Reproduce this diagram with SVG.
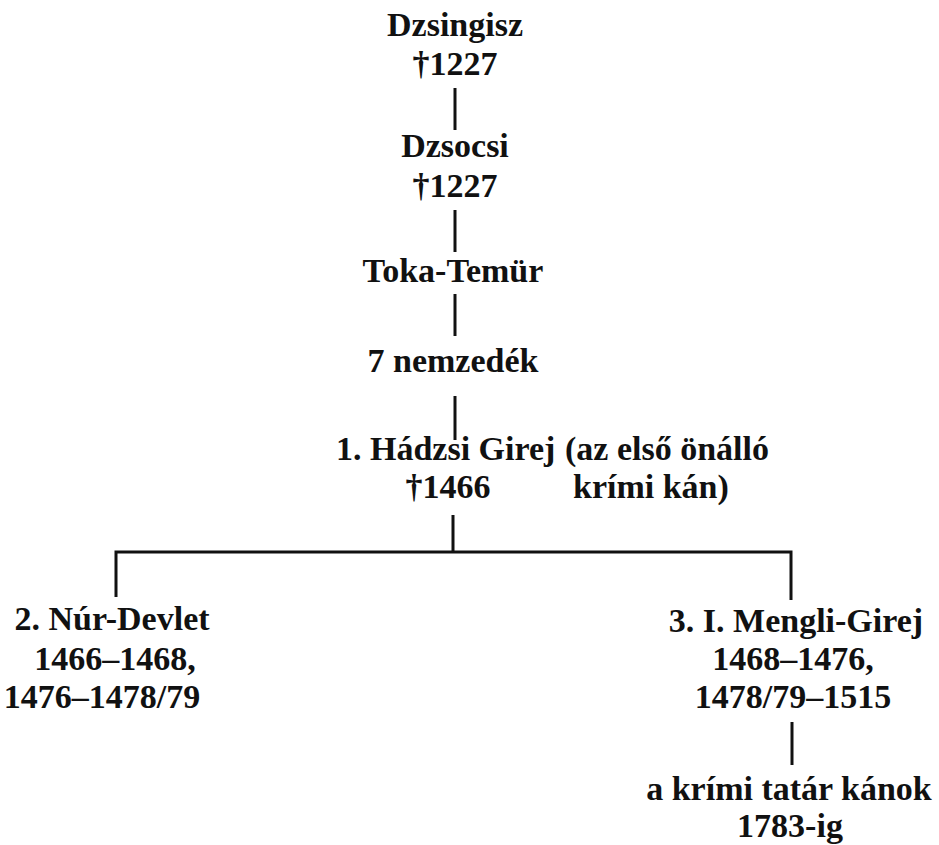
<svg xmlns="http://www.w3.org/2000/svg" width="939" height="845" viewBox="0 0 939 845">
<style>
text{font-family:"Liberation Serif","Times New Roman",serif;font-weight:bold;font-size:34px;fill:#111}
.c{text-anchor:middle}
.ln{stroke:#111;stroke-width:3;fill:none}
</style>
<rect width="939" height="845" fill="#fff"/>
<g id="connectors">
<line class="ln" x1="455" y1="88" x2="455" y2="130"/>
<line class="ln" x1="455" y1="210" x2="455" y2="252"/>
<line class="ln" x1="455" y1="294" x2="455" y2="336"/>
<line class="ln" x1="455" y1="396" x2="455" y2="440"/>
<path class="ln" d="M453 515 V552 M116 597 V552 H791 V600"/>
<line class="ln" x1="792" y1="722" x2="792" y2="765"/>
</g>
<g id="dzsingisz"><text class="c" x="455" y="36">Dzsingisz</text><text class="c" x="455" y="75">†1227</text></g>
<g id="dzsocsi"><text class="c" x="455" y="157">Dzsocsi</text><text class="c" x="455" y="197">†1227</text></g>
<g id="toka"><text class="c" x="453" y="282">Toka-Temür</text></g>
<g id="nemzedek"><text class="c" x="453" y="372">7 nemzedék</text></g>
<g id="hadzsi"><text x="336" y="460">1. Hádzsi Girej</text><text class="c" x="448" y="498">†1466</text></g>
<g id="hadzsi-note"><text x="565" y="460">(az első önálló</text><text x="573" y="498">krími kán)</text></g>
<g id="nur"><text class="c" x="112" y="630">2. Núr-Devlet</text><text class="c" x="115" y="670">1466–1468,</text><text class="c" x="102" y="708">1476–1478/79</text></g>
<g id="mengli"><text class="c" x="796" y="632">3. I. Mengli-Girej</text><text class="c" x="793" y="670">1468–1476,</text><text class="c" x="793" y="708">1478/79–1515</text></g>
<g id="kanok"><text class="c" x="789" y="800">a krími tatár kánok</text><text class="c" x="790" y="837">1783-ig</text></g>
</svg>
